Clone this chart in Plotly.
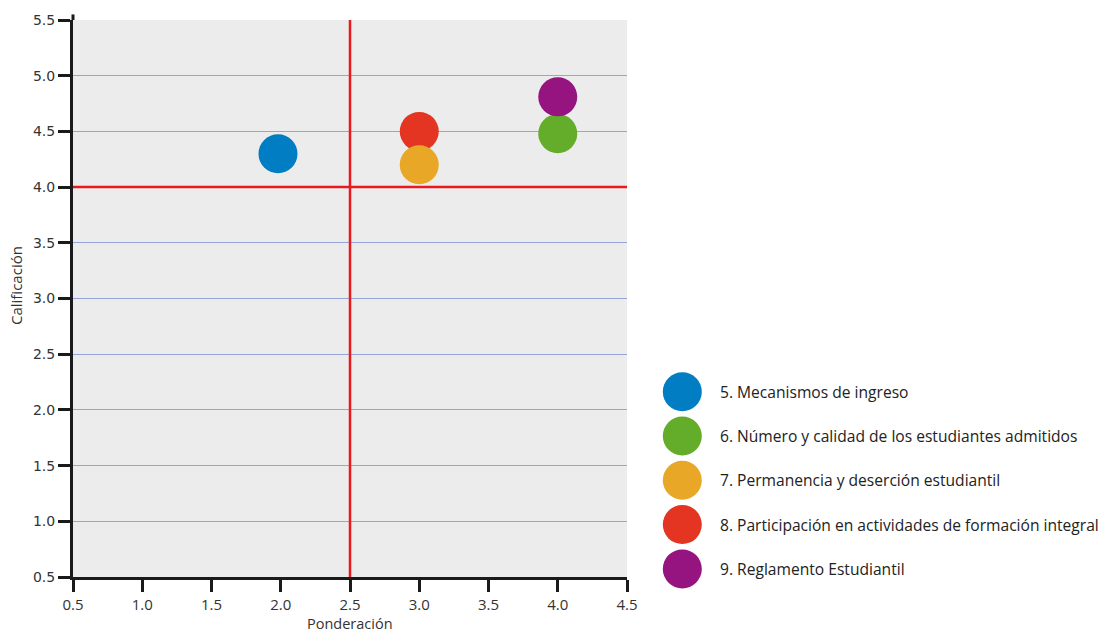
import plotly.graph_objects as go

# ---- data ----
labels = [
    "5. Mecanismos de ingreso",
    "6. Número y calidad de los estudiantes admitidos",
    "7. Permanencia y deserción estudiantil",
    "8. Participación en actividades de formación integral",
    "9. Reglamento Estudiantil",
]
ponderacion = [1.98, 4.0, 3.0, 3.0, 4.0]
calificacion = [4.3, 4.48, 4.2, 4.5, 4.81]
colors = ["#007dc3", "#63ad2a", "#e8a726", "#e33521", "#951480"]
draw_order = [0, 1, 3, 2, 4]
tick_vals = [0.5, 1.0, 1.5, 2.0, 2.5, 3.0, 3.5, 4.0, 4.5, 5.0, 5.5]
x_ticks = [v for v in tick_vals if v <= 4.5]
y_ticks = tick_vals
x_ref = 2.5
y_ref = 4.0
x_title = "Ponderación"
y_title = "Calificación"

W, H = 1107, 634
TXT = "#333333"
FONT = "Open Sans"


def px_x(p):
    return p / W


def px_y(p):
    return 1 - p / H


fig = go.Figure()

for i in draw_order:
    fig.add_trace(go.Scatter(
        x=[ponderacion[i]], y=[calificacion[i]], mode="markers",
        marker=dict(size=39, color=colors[i], line=dict(width=0)),
        name=labels[i], showlegend=False, xaxis="x", yaxis="y",
    ))

# manual legend in its own hidden axes (units = pixels / row index)
leg_idx = list(range(len(labels)))
fig.add_trace(go.Scatter(
    x=[42.3] * len(labels), y=leg_idx, mode="markers",
    marker=dict(size=39, color=colors, line=dict(width=0)),
    showlegend=False, xaxis="x2", yaxis="y2", hoverinfo="skip", cliponaxis=False,
))
for i, lab in enumerate(labels):
    fig.add_annotation(
        x=78, y=i, xref="x2", yref="y2", text=lab, showarrow=False,
        xanchor="left", yanchor="middle",
        font=dict(family=FONT, size=15.6, color="#222222"),
    )

# plot background (only for main axes)
fig.add_shape(type="rect", xref="x domain", yref="y domain", x0=0, x1=1, y0=0, y1=1,
              fillcolor="#ececec", line=dict(width=0), layer="below")
# reference lines
fig.add_shape(type="line", xref="x", yref="y", x0=x_ref, x1=x_ref, y0=0.5, y1=5.5,
              line=dict(color="#e8191f", width=2.5), layer="between")
fig.add_shape(type="line", xref="x", yref="y", x0=0.5, x1=4.5, y0=y_ref, y1=y_ref,
              line=dict(color="#e8191f", width=2.5), layer="between")
# small extension of y axis line above the plot
fig.add_shape(type="line", xref="x domain", yref="y domain", x0=0, x1=0, y0=1, y1=1.01,
              line=dict(color="#1a1a1a", width=3), layer="above")

# axis titles
fig.add_annotation(x=px_x(350), y=px_y(623.5), xref="paper", yref="paper",
                   text=x_title, showarrow=False, xanchor="center", yanchor="middle",
                   font=dict(family=FONT, size=14.5, color=TXT))
fig.add_annotation(x=px_x(16), y=px_y(286), xref="paper", yref="paper",
                   text=y_title, showarrow=False, xanchor="center", yanchor="middle",
                   textangle=-90, font=dict(family=FONT, size=15, color=TXT))

fig.update_layout(
    width=W, height=H,
    margin=dict(l=0, r=0, t=0, b=0, autoexpand=False),
    paper_bgcolor="white",
    plot_bgcolor="white",
    xaxis=dict(
        domain=[px_x(73), px_x(627)], range=[0.5, 4.5], tickvals=x_ticks,
        ticktext=[f"{v:.1f}" for v in x_ticks],
        showgrid=False, zeroline=False, showline=True, linecolor="#1a1a1a", linewidth=3,
        ticks="outside", ticklen=12, tickwidth=3, tickcolor="#1a1a1a",
        tickfont=dict(family=FONT, size=15, color=TXT),
        automargin=False, fixedrange=True, anchor="y",
    ),
    yaxis=dict(
        domain=[px_y(577), px_y(20)],
        range=[0.5, 5.5], tickvals=y_ticks, ticktext=[f"{v:.1f}" for v in y_ticks],
        showgrid=True, gridcolor="#97a5d6", gridwidth=1,
        zeroline=False, showline=True, linecolor="#1a1a1a", linewidth=3,
        ticks="outside", ticklen=12, tickwidth=3, tickcolor="#1a1a1a",
        tickfont=dict(family="DejaVu Sans", size=14, color=TXT),
        automargin=False, fixedrange=True, anchor="x",
    ),
    xaxis2=dict(
        domain=[px_x(640), 1], range=[0, W - 640], visible=False,
        anchor="y2", fixedrange=True, automargin=False,
    ),
    yaxis2=dict(
        domain=[0, 1], range=[(H - 391.7) / 44.3, (0 - 391.7) / 44.3],
        visible=False, anchor="x2", fixedrange=True, automargin=False,
    ),
)

fig.write_html(
    "out.html",
    config={"displayModeBar": False},
    post_script="document.body.style.margin='0';document.body.style.overflow='hidden';",
)
